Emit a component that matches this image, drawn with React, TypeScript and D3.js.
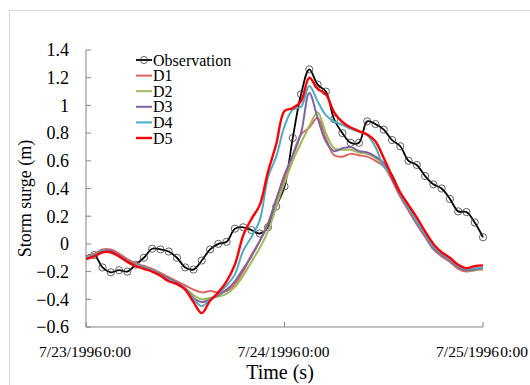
import React from 'react';
import * as d3 from 'd3';

// hours since 7/23/1996 0:00
const hours = [
  0, 1, 2, 3, 4, 5, 6, 7, 8, 9, 10, 11, 12, 13, 14, 15, 16, 17, 18, 19, 20, 21, 22, 23, 24,
  25, 26, 27, 28, 29, 30, 31, 32, 33, 34, 35, 36, 37, 38, 39, 40, 41, 42, 43, 44, 45, 46, 47, 48,
];

const observation = [
  -0.09, -0.08, -0.17, -0.205, -0.19, -0.2, -0.15, -0.1, -0.035, -0.04, -0.055, -0.1, -0.17,
  -0.185, -0.12, -0.04, 0.0, 0.015, 0.11, 0.12, 0.1, 0.075, 0.12, 0.27, 0.415, 0.765, 1.08,
  1.26, 1.15, 1.1, 0.9, 0.8, 0.73, 0.73, 0.885, 0.865, 0.825, 0.75, 0.705, 0.6, 0.57, 0.49,
  0.43, 0.4, 0.325, 0.235, 0.23, 0.155, 0.048,
];

const d1 = [
  -0.09, -0.07, -0.04, -0.04, -0.07, -0.11, -0.14, -0.16, -0.18, -0.21, -0.24, -0.27, -0.3,
  -0.33, -0.35, -0.34, -0.35, -0.34, -0.29, -0.2, -0.08, 0.02, 0.15, 0.32, 0.47, 0.64, 0.79,
  0.84, 0.91, 0.76, 0.64, 0.63, 0.65, 0.64, 0.63, 0.6, 0.56, 0.46, 0.34, 0.24, 0.14, 0.05,
  -0.04, -0.09, -0.13, -0.18, -0.2, -0.19, -0.185,
];

const d2 = [
  -0.1, -0.08, -0.05, -0.05, -0.08, -0.12, -0.15, -0.17, -0.19, -0.22, -0.25, -0.28, -0.32,
  -0.37, -0.4, -0.39, -0.38, -0.36, -0.31, -0.23, -0.13, -0.03, 0.09, 0.27, 0.44, 0.6, 0.73,
  0.85, 0.95, 0.8, 0.69, 0.68, 0.68, 0.66, 0.65, 0.62, 0.57, 0.47, 0.35, 0.25, 0.15, 0.06,
  -0.03, -0.08, -0.12, -0.17, -0.19, -0.19, -0.18,
];

const d3s = [
  -0.1, -0.08, -0.05, -0.05, -0.08, -0.12, -0.15, -0.17, -0.19, -0.22, -0.25, -0.28, -0.32,
  -0.39, -0.42, -0.4, -0.37, -0.33, -0.27, -0.18, -0.09, 0.02, 0.14, 0.32, 0.5, 0.64, 0.8,
  1.09, 0.91, 0.74, 0.67, 0.69, 0.7, 0.67, 0.66, 0.63, 0.585, 0.47, 0.35, 0.25, 0.15, 0.06,
  -0.03, -0.08, -0.12, -0.17, -0.19, -0.185, -0.175,
];

const d4 = [
  -0.1, -0.08, -0.05, -0.06, -0.09, -0.13, -0.15, -0.17, -0.19, -0.23, -0.26, -0.29, -0.32,
  -0.4, -0.45, -0.4, -0.36, -0.3, -0.22, -0.05, 0.05, 0.17, 0.48, 0.63, 0.85, 0.97, 0.99,
  1.14, 1.03, 0.93, 0.885, 0.86, 0.83, 0.81, 0.785, 0.7, 0.56, 0.5, 0.36, 0.26, 0.16, 0.07,
  -0.02, -0.07, -0.11, -0.16, -0.18, -0.175, -0.17,
];

const d5 = [
  -0.11, -0.09, -0.06, -0.06, -0.09, -0.13, -0.16, -0.18, -0.2, -0.23, -0.27, -0.29, -0.33,
  -0.42, -0.5, -0.41, -0.35, -0.27, -0.15, 0.06, 0.18, 0.28, 0.52, 0.72, 0.96, 0.98, 1.03,
  1.2, 1.12, 1.08, 0.95, 0.88, 0.84, 0.815, 0.79, 0.74, 0.62, 0.49, 0.37, 0.28, 0.19, 0.09,
  0.0, -0.06, -0.1, -0.15, -0.175, -0.16, -0.155,
];

const seriesNames = ['D1', 'D2', 'D3', 'D4', 'D5'];
const seriesValues = [d1, d2, d3s, d4, d5];
const seriesColors = ['#DC6461', '#9BBB59', '#8064A2', '#4BACC6', '#FF0000'];
const seriesWidths = [2, 2, 2, 2, 2.4];

const yTicks = [-0.6, -0.4, -0.2, 0, 0.2, 0.4, 0.6, 0.8, 1, 1.2, 1.4];
const xTicks = [0, 24, 48];
const xTickLabels = ['7/23/1996 0:00', '7/24/1996 0:00', '7/25/1996 0:00'];

const W = 530;
const H = 385;
const font = '"Liberation Serif", "Times New Roman", serif';

export default function App() {
  const x = d3.scaleLinear().domain([0, 48]).range([86, 483]);
  const y = d3.scaleLinear().domain([-0.6, 1.4]).range([327, 50]);

  const line = d3
    .line<number>()
    .x((_, i) => x(hours[i]))
    .y((d) => y(d))
    .curve(d3.curveCatmullRom.alpha(0.5));

  const legendX = 136;
  const legendY = 60;
  const legendStep = 15.6;

  return (
    <svg
      width={W}
      height={H}
      style={{ position: 'absolute', left: 0, top: 0, display: 'block' }}
      fontFamily={font}
    >
      <rect x={0} y={0} width={W} height={H} fill="#fff" />
      <rect x={9.5} y={10.5} width={540} height={400} fill="#fff" stroke="#d9d9d9" />

      {/* axes */}
      <line x1={86} x2={86} y1={y(1.4)} y2={y(-0.6)} stroke="#868686" />
      <line x1={86} x2={483} y1={y(-0.6)} y2={y(-0.6)} stroke="#868686" />
      {yTicks.map((t) => (
        <g key={t}>
          <line x1={86} x2={91} y1={y(t)} y2={y(t)} stroke="#868686" />
          <text x={69} y={y(t)} dy="0.35em" textAnchor="end" fontSize={18}>
            {t === 0 ? '0' : d3.format('.1~f')(t)}
          </text>
        </g>
      ))}
      {xTicks.map((t, i) => (
        <g key={t}>
          <line x1={x(t)} x2={x(t)} y1={y(-0.6)} y2={y(-0.6) - 5} stroke="#868686" />
          <text
            x={x(t) - 1}
            y={357}
            textAnchor="middle"
            fontSize={15.5}
            style={{ wordSpacing: '-2.5px' }}
          >
            {xTickLabels[i]}
          </text>
        </g>
      ))}

      <text x={280} y={379} textAnchor="middle" fontSize={20}>
        Time (s)
      </text>
      <text
        transform={`translate(31, ${y(0.4) + 10}) rotate(-90)`}
        textAnchor="middle"
        fontSize={18}
      >
        Storm surge (m)
      </text>

      {/* observation */}
      <path d={line(observation) || ''} fill="none" stroke="#000" strokeWidth={1.8} />
      {observation.slice(1).map((v, i) => (
        <circle
          key={i}
          cx={x(hours[i + 1])}
          cy={y(v)}
          r={3.6}
          fill="none"
          stroke="#3a3a3a"
          strokeWidth={0.8}
        />
      ))}

      {/* models */}
      {seriesValues.map((vals, k) => (
        <path
          key={seriesNames[k]}
          d={line(vals) || ''}
          fill="none"
          stroke={seriesColors[k]}
          strokeWidth={seriesWidths[k]}
        />
      ))}

      {/* legend */}
      <g fontSize={16}>
        <line x1={legendX} x2={legendX + 16} y1={legendY} y2={legendY} stroke="#000" strokeWidth={1.8} />
        <circle cx={legendX + 8} cy={legendY} r={3.6} fill="none" stroke="#3a3a3a" strokeWidth={0.8} />
        <text x={legendX + 17} y={legendY} dy="0.35em">
          Observation
        </text>
        {seriesNames.map((name, k) => (
          <g key={name}>
            <line
              x1={legendX}
              x2={legendX + 16}
              y1={legendY + legendStep * (k + 1)}
              y2={legendY + legendStep * (k + 1)}
              stroke={seriesColors[k]}
              strokeWidth={seriesWidths[k]}
            />
            <text x={legendX + 17} y={legendY + legendStep * (k + 1)} dy="0.35em">
              {name}
            </text>
          </g>
        ))}
      </g>
    </svg>
  );
}
